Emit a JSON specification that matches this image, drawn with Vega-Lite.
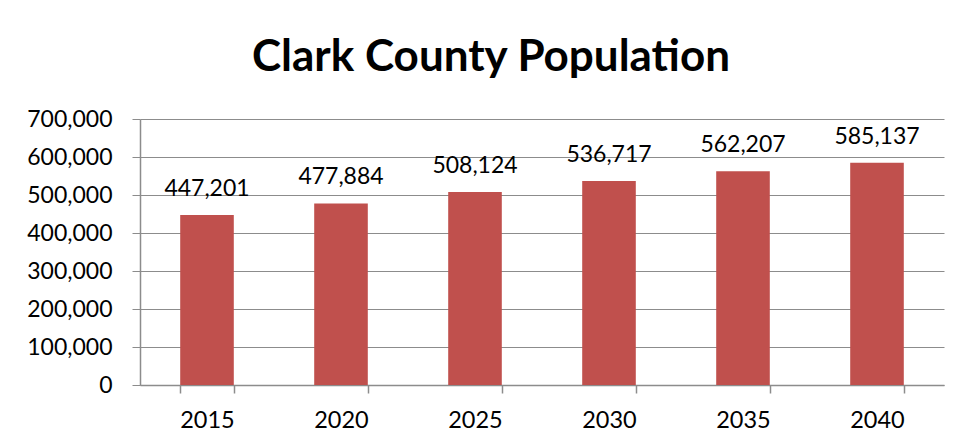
{
  "$schema": "https://vega.github.io/schema/vega-lite/v6.json",
  "width": 804,
  "height": 266,
  "autosize": {"type": "none"},
  "padding": {"left": 140, "top": 119, "right": 15, "bottom": 62},
  "background": "white",
  "title": {
    "text": "Clark County Population",
    "font": "Lato",
    "fontSize": 44,
    "fontWeight": "bold",
    "color": "black",
    "anchor": "middle",
    "frame": "group",
    "dx": -51,
    "dy": 43,
    "baseline": "alphabetic",
    "offset": 36
  },
  "data": {
    "values": [
      {"year": "2015", "pop": 447201},
      {"year": "2020", "pop": 477884},
      {"year": "2025", "pop": 508124},
      {"year": "2030", "pop": 536717},
      {"year": "2035", "pop": 562207},
      {"year": "2040", "pop": 585137}
    ]
  },
  "encoding": {
    "x": {
      "field": "year",
      "type": "nominal",
      "sort": null,
      "scale": {"paddingInner": 0.6, "paddingOuter": 0.3},
      "axis": {
        "title": null,
        "labelAngle": 0,
        "labelFont": "Lato",
        "labelFontSize": 23.5,
        "labelColor": "black",
        "labelPadding": 15,
        "tickBand": "extent",
        "tickSize": 8,
        "tickWidth": 1.5,
        "tickColor": "#8c8c8c",
        "domainColor": "#8c8c8c",
        "domainWidth": 1.5,
        "grid": false
      }
    },
    "y": {
      "field": "pop",
      "type": "quantitative",
      "scale": {"domain": [0, 700000], "nice": false},
      "axis": {
        "title": null,
        "values": [0, 100000, 200000, 300000, 400000, 500000, 600000, 700000],
        "format": ",.0f",
        "labelFont": "Lato",
        "labelFontSize": 23,
        "labelColor": "black",
        "labelPadding": 20,
        "tickSize": 8,
        "tickColor": "#8c8c8c",
        "domainColor": "#8c8c8c",
        "domainWidth": 1.5,
        "grid": true,
        "gridColor": "#8c8c8c",
        "gridOpacity": 1
      }
    }
  },
  "layer": [
    {"mark": {"type": "bar", "color": "#C0504D"}},
    {
      "mark": {"type": "text", "baseline": "alphabetic", "dy": -19, "font": "Lato", "fontSize": 23, "color": "black"},
      "encoding": {"text": {"field": "pop", "type": "quantitative", "format": ","}}
    }
  ],
  "config": {"view": {"stroke": null}}
}
